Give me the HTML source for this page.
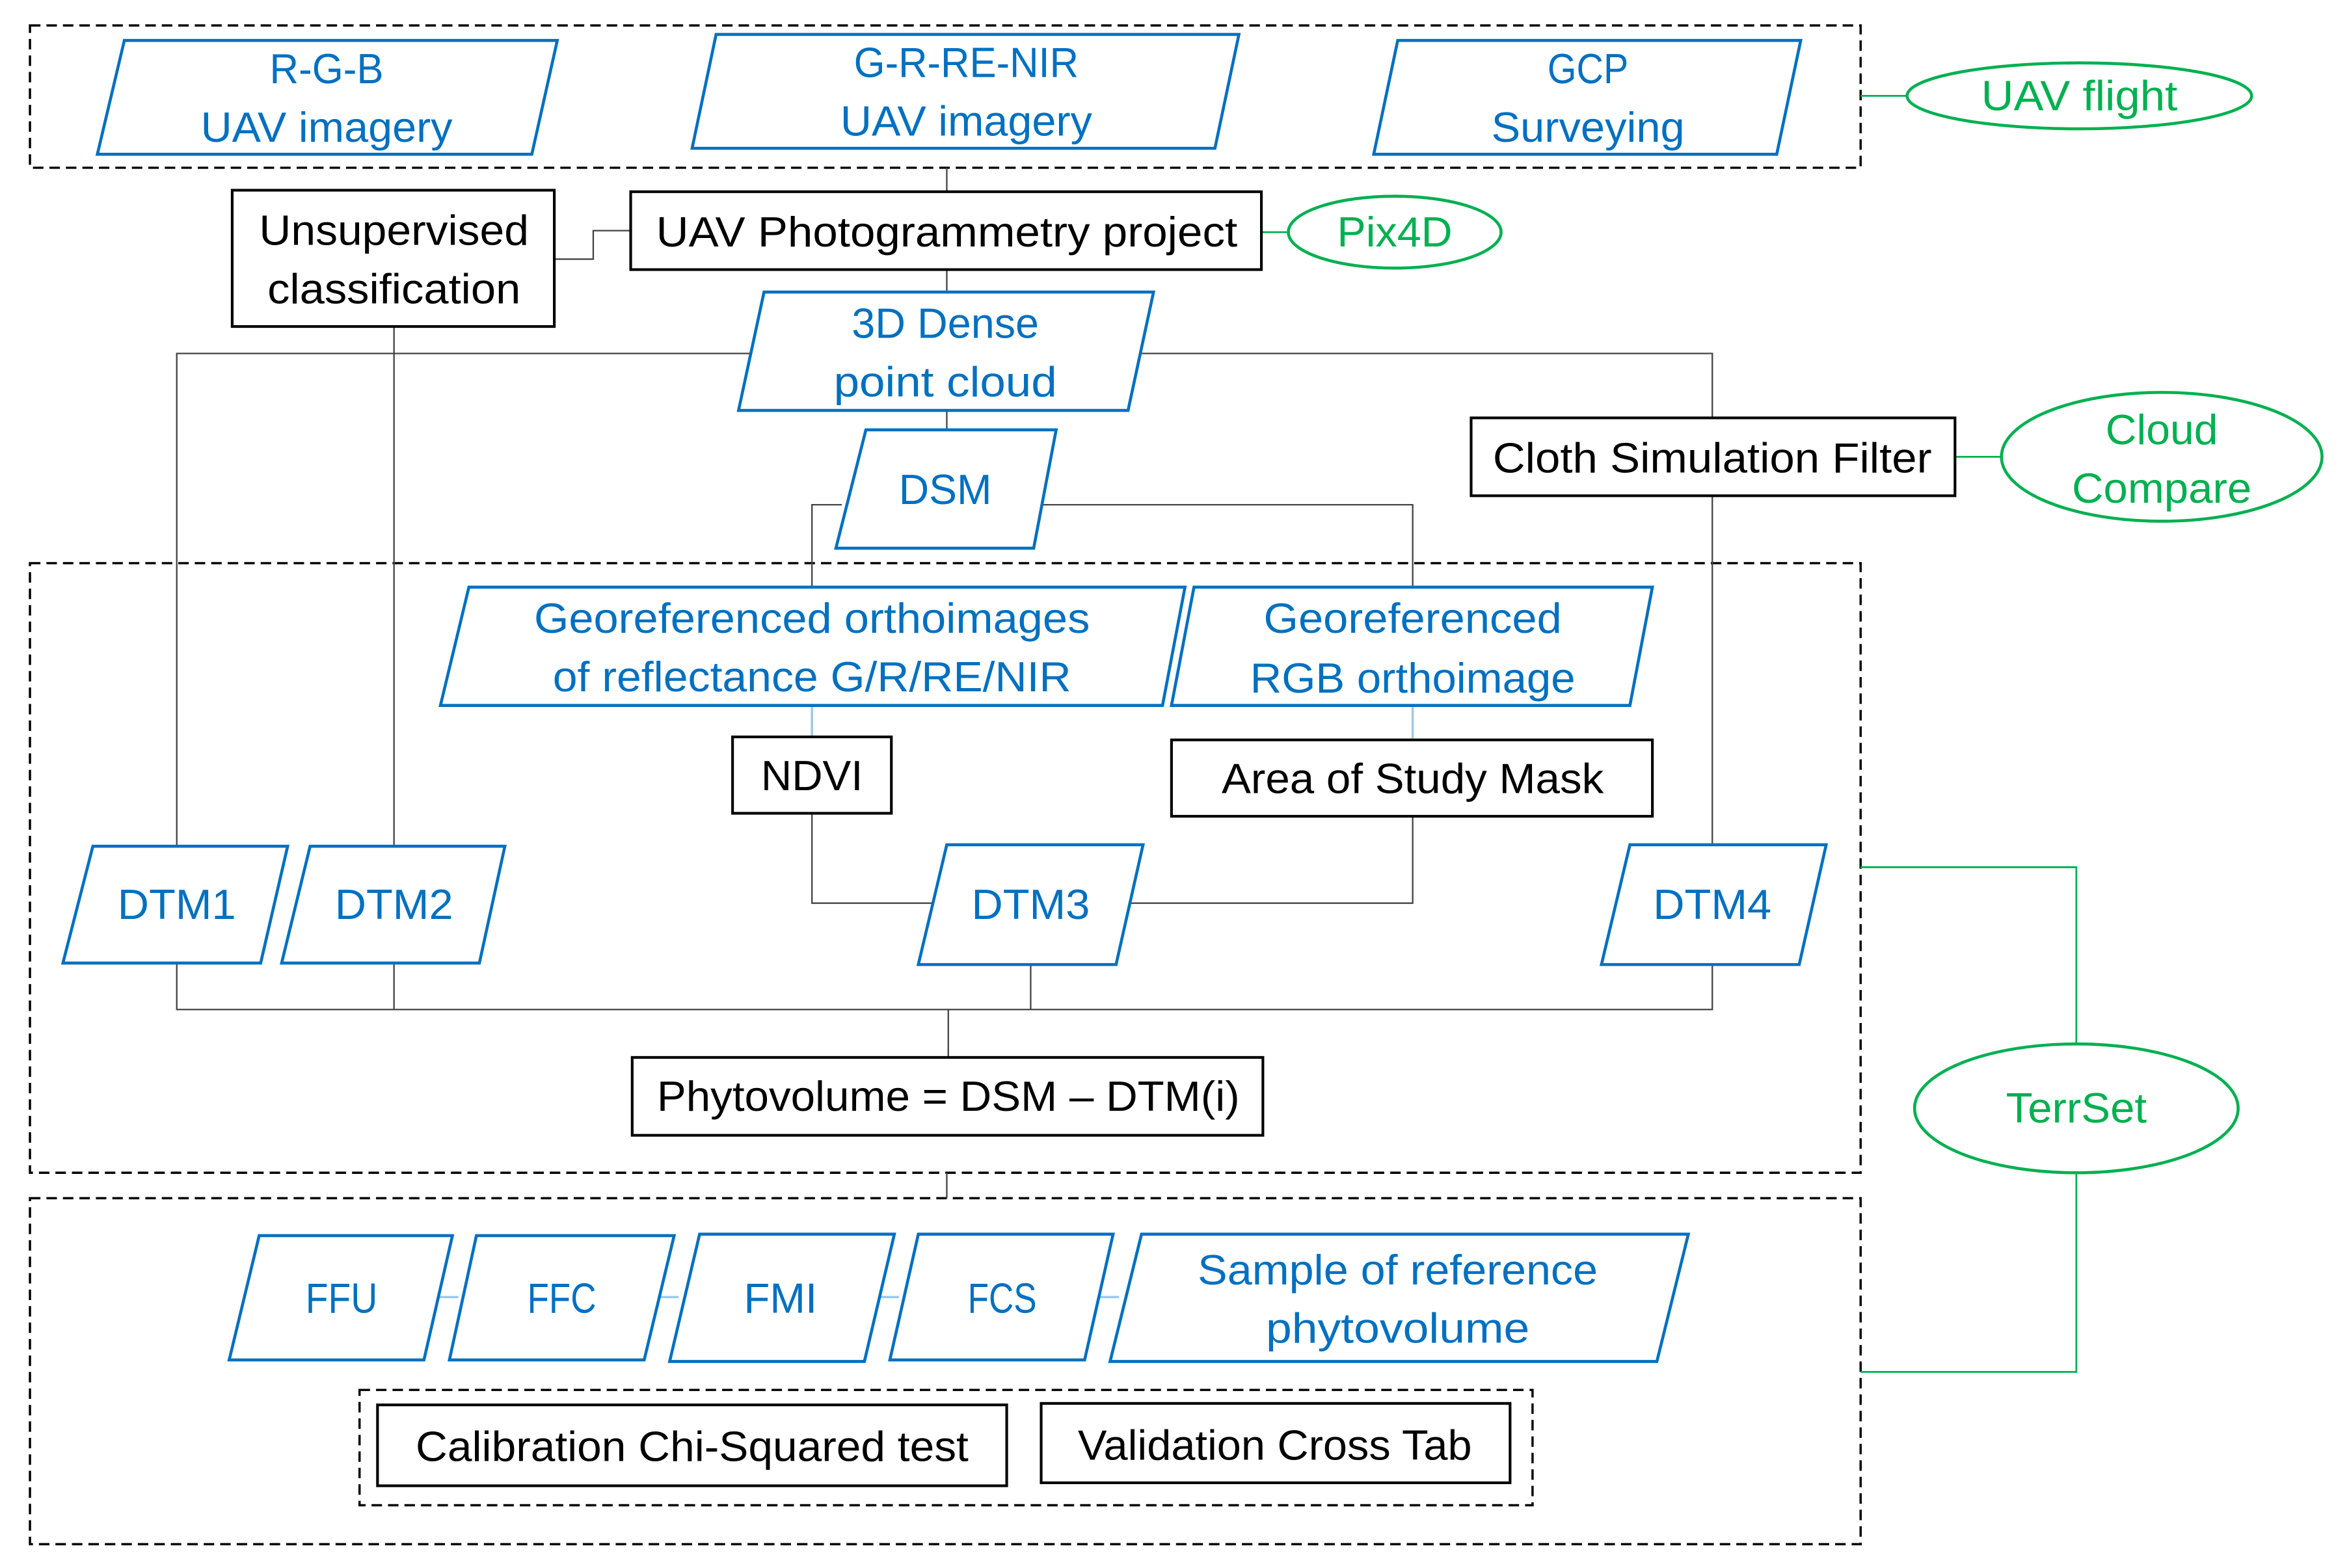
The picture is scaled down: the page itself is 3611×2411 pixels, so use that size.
<!DOCTYPE html>
<html><head><meta charset="utf-8"><style>
html,body{margin:0;padding:0;background:#fff}
svg{display:block}
text{font-family:"Liberation Sans",sans-serif;font-size:28px;text-anchor:middle;dominant-baseline:central}
.b{fill:#0070C0}.k{fill:#000}.g{fill:#00B050}
.pb{fill:#fff;stroke:#0070C0;stroke-width:2}
.bx{fill:#fff;stroke:#000;stroke-width:1.8}
.ln{stroke:#444;stroke-width:1;fill:none}
.lb{stroke:#9cc8ea;stroke-width:1.5;fill:none}
.gl{stroke:#00B050;stroke-width:1.2;fill:none}
.el{fill:#fff;stroke:#00B050;stroke-width:2}
.ds{fill:none;stroke:#000;stroke-width:1.5;stroke-dasharray:7,4}
</style></head><body>
<svg width="3611" height="2411" viewBox="0 0 1568 1046.9" preserveAspectRatio="none" xmlns="http://www.w3.org/2000/svg">
<rect class="ds" x="20" y="17" width="1222" height="95"/>
<rect class="ds" x="20" y="376" width="1222" height="407"/>
<rect class="ds" x="20" y="800" width="1222" height="231"/>
<rect class="ds" x="240" y="928" width="783" height="77"/>

<path class="ln" d="M632 112V128M370 173H396V154H421M632 180V195M118 565V236H501M761 236H1143V279M263 218V565M632 274V287M562 337H542V392M693 337H943V392M1143 331V564M542 543V603H622M943 545V603H753M118 643V674H1143V644M263 643V674M688 644V674M633 674V706M632 783V800"/>
<path class="lb" d="M542 471V492M943 471V493M283 866H306M430 866H453M577 866H600M724 866H747"/>
<path class="gl" d="M1242 64H1273M842 155H860M1305 305H1337M1242 579H1386V697M1386 783V916H1242"/>

<polygon class="pb" points="83,27 372,27 355,103 65,103"/>
<text class="b" x="218" y="46" textLength="76" lengthAdjust="spacingAndGlyphs">R-G-B</text>
<text class="b" x="218" y="85" textLength="168" lengthAdjust="spacingAndGlyphs">UAV imagery</text>
<polygon class="pb" points="478,23 827,23 811,99 462,99"/>
<text class="b" x="645" y="42" textLength="150" lengthAdjust="spacingAndGlyphs">G-R-RE-NIR</text>
<text class="b" x="645" y="81" textLength="168" lengthAdjust="spacingAndGlyphs">UAV imagery</text>
<polygon class="pb" points="933,27 1202,27 1186,103 917,103"/>
<text class="b" x="1060" y="46" textLength="54" lengthAdjust="spacingAndGlyphs">GCP</text>
<text class="b" x="1060" y="85" textLength="129" lengthAdjust="spacingAndGlyphs">Surveying</text>
<ellipse class="el" cx="1388" cy="64" rx="115" ry="22"/>
<text class="g" x="1388" y="64" textLength="131" lengthAdjust="spacingAndGlyphs">UAV flight</text>

<rect class="bx" x="421" y="128" width="421" height="52"/>
<text class="k" x="632" y="155" textLength="388" lengthAdjust="spacingAndGlyphs">UAV Photogrammetry project</text>
<ellipse class="el" cx="931" cy="155" rx="71" ry="24"/>
<text class="g" x="931" y="155" textLength="77" lengthAdjust="spacingAndGlyphs">Pix4D</text>
<rect class="bx" x="155" y="127" width="215" height="91"/>
<text class="k" x="263" y="154" textLength="180" lengthAdjust="spacingAndGlyphs">Unsupervised</text>
<text class="k" x="263" y="193" textLength="169" lengthAdjust="spacingAndGlyphs">classification</text>

<polygon class="pb" points="510,195 770,195 753,274 493,274"/>
<text class="b" x="631" y="216" textLength="125" lengthAdjust="spacingAndGlyphs">3D Dense</text>
<text class="b" x="631" y="255" textLength="149" lengthAdjust="spacingAndGlyphs">point cloud</text>

<polygon class="pb" points="578,287 705,287 690,366 558,366"/>
<text class="b" x="631" y="327" textLength="62" lengthAdjust="spacingAndGlyphs">DSM</text>

<rect class="bx" x="982" y="279" width="323" height="52"/>
<text class="k" x="1143" y="306" textLength="293" lengthAdjust="spacingAndGlyphs">Cloth Simulation Filter</text>
<ellipse class="el" cx="1443" cy="305" rx="107" ry="43"/>
<text class="g" x="1443" y="287" textLength="75" lengthAdjust="spacingAndGlyphs">Cloud</text>
<text class="g" x="1443" y="326" textLength="120" lengthAdjust="spacingAndGlyphs">Compare</text>

<polygon class="pb" points="313,392 791,392 776,471 294,471"/>
<text class="b" x="542" y="413" textLength="371" lengthAdjust="spacingAndGlyphs">Georeferenced orthoimages</text>
<text class="b" x="542" y="452" textLength="346" lengthAdjust="spacingAndGlyphs">of reflectance G/R/RE/NIR</text>
<polygon class="pb" points="797,392 1103,392 1088,471 782,471"/>
<text class="b" x="943" y="413" textLength="199" lengthAdjust="spacingAndGlyphs">Georeferenced</text>
<text class="b" x="943" y="453" textLength="217" lengthAdjust="spacingAndGlyphs">RGB orthoimage</text>
<rect class="bx" x="489" y="492" width="106" height="51"/>
<text class="k" x="542" y="518" textLength="68" lengthAdjust="spacingAndGlyphs">NDVI</text>
<rect class="bx" x="782" y="494" width="321" height="51"/>
<text class="k" x="943" y="520" textLength="255" lengthAdjust="spacingAndGlyphs">Area of Study Mask</text>

<polygon class="pb" points="62,565 192,565 174,643 42,643"/>
<text class="b" x="118" y="604" textLength="79" lengthAdjust="spacingAndGlyphs">DTM1</text>
<polygon class="pb" points="207,565 337,565 320,643 188,643"/>
<text class="b" x="263" y="604" textLength="79" lengthAdjust="spacingAndGlyphs">DTM2</text>
<polygon class="pb" points="632,564 763,564 745,644 613,644"/>
<text class="b" x="688" y="604" textLength="79" lengthAdjust="spacingAndGlyphs">DTM3</text>
<polygon class="pb" points="1088,564 1219,564 1201,644 1069,644"/>
<text class="b" x="1143" y="604" textLength="79" lengthAdjust="spacingAndGlyphs">DTM4</text>

<rect class="bx" x="422" y="706" width="421" height="52"/>
<text class="k" x="633" y="732" textLength="389" lengthAdjust="spacingAndGlyphs">Phytovolume = DSM – DTM(i)</text>

<ellipse class="el" cx="1386" cy="740" rx="108" ry="43"/>
<text class="g" x="1386" y="740" textLength="94" lengthAdjust="spacingAndGlyphs">TerrSet</text>

<polygon class="pb" points="173,825 302,825 283,908 153,908"/>
<text class="b" x="228" y="867" textLength="48" lengthAdjust="spacingAndGlyphs">FFU</text>
<polygon class="pb" points="318,825 450,825 430,908 300,908"/>
<text class="b" x="375" y="867" textLength="46" lengthAdjust="spacingAndGlyphs">FFC</text>
<polygon class="pb" points="467,824 597,824 577,909 447,909"/>
<text class="b" x="521" y="867" textLength="49" lengthAdjust="spacingAndGlyphs">FMI</text>
<polygon class="pb" points="613,824 743,824 724,908 594,908"/>
<text class="b" x="669" y="867" textLength="46" lengthAdjust="spacingAndGlyphs">FCS</text>
<polygon class="pb" points="762,824 1127,824 1106,909 741,909"/>
<text class="b" x="933" y="848" textLength="267" lengthAdjust="spacingAndGlyphs">Sample of reference</text>
<text class="b" x="933" y="887" textLength="176" lengthAdjust="spacingAndGlyphs">phytovolume</text>

<rect class="bx" x="252" y="938" width="420" height="54"/>
<text class="k" x="462" y="966" textLength="369" lengthAdjust="spacingAndGlyphs">Calibration Chi-Squared test</text>
<rect class="bx" x="695" y="937" width="313" height="53"/>
<text class="k" x="851" y="965" textLength="263" lengthAdjust="spacingAndGlyphs">Validation Cross Tab</text>
</svg>
</body></html>
